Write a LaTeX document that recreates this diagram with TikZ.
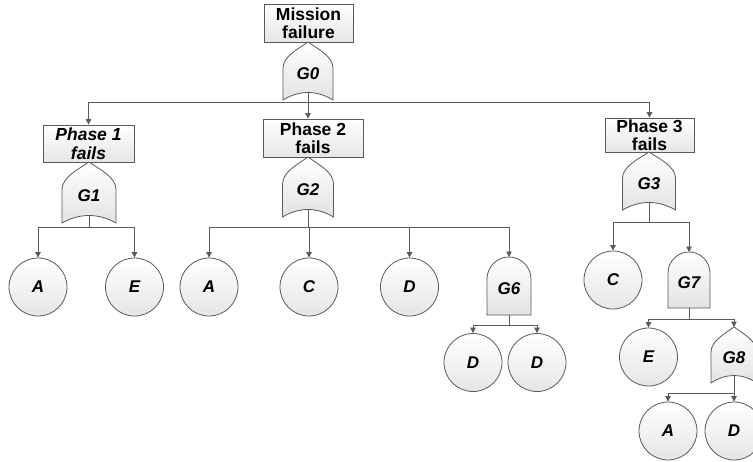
\documentclass[tikz,border=0pt]{standalone}
\usepackage{fontspec}
\setmainfont{Liberation Sans}
\usetikzlibrary{arrows.meta,calc}
\definecolor{edge}{HTML}{5A5A5A}
\tikzset{
  wire/.style={draw=edge, line width=0.9pt},
  arr/.style={wire, -{Triangle[width=5.5pt,length=5.5pt]}},
  gatefill/.style={draw=edge, line width=0.8pt, top color=white, bottom color=gray!22},
  boxnode/.style={draw=edge, line width=0.8pt, top color=white, bottom color=gray!20,
    inner sep=0pt, align=center, font=\fontsize{17.5}{18.5}\selectfont\bfseries},
  event/.style={circle, draw=edge, line width=0.8pt, top color=white, bottom color=gray!20,
    minimum size=58pt, inner sep=0pt, font=\fontsize{17}{18}\selectfont\bfseries\itshape},
  glabel/.style={inner sep=0pt, font=\fontsize{17}{18}\selectfont\bfseries\itshape}
}
% OR gate: name, centre x, tip y, half width, corner y, label
\newcommand\orgate[6]{%
  \pgfmathsetmacro\gh{#5-#3}%
  \path[gatefill] (#2,#3)
    .. controls ({#2-0.4*#4},{#3+0.12*\gh}) and ({#2-#4},{#3+0.25*\gh}) .. ({#2-#4},{#3+0.45*\gh})
    -- ({#2-#4},#5)
    .. controls ({#2-0.35*#4},{#5-10}) and ({#2+0.35*#4},{#5-10}) .. ({#2+#4},#5)
    -- ({#2+#4},{#3+0.45*\gh})
    .. controls ({#2+#4},{#3+0.25*\gh}) and ({#2+0.4*#4},{#3+0.12*\gh}) .. (#2,#3) -- cycle;
  \coordinate (#1-in) at (#2,#3);
  \coordinate (#1-out) at (#2,{#5-7.5});
  \node[glabel] (#1) at (#2,{#3+0.55*\gh}) {#6};
}
% AND gate: name, centre x, top y, half width, bottom y, label
\newcommand\andgate[6]{%
  \path[gatefill] ({#2-#4},#5) -- ({#2-#4},{#3+#4})
    .. controls ({#2-#4},{#3+0.45*#4}) and ({#2-0.55*#4},#3) .. (#2,#3)
    .. controls ({#2+0.55*#4},#3) and ({#2+#4},{#3+0.45*#4}) .. ({#2+#4},{#3+#4})
    -- ({#2+#4},#5) -- cycle;
  \coordinate (#1-in) at (#2,#3);
  \coordinate (#1-out) at (#2,#5);
  \node[glabel] (#1) at (#2,{0.5*#3+0.5*#5+3}) {#6};
}
\begin{document}
\begin{tikzpicture}[x=1pt,y=-1pt]
\useasboundingbox (0,0) rectangle (753,461);
\clip (0,0) rectangle (753,461);

% top event and phase events
\node[boxnode, minimum width=89pt, minimum height=38pt] (top) at (308.5,23) {Mission\\failure};
\node[boxnode, minimum width=91pt, minimum height=37pt, font=\fontsize{17.5}{18.5}\selectfont\bfseries\itshape] (p1) at (88.5,143.5) {Phase 1\\fails};
\node[boxnode, minimum width=100pt, minimum height=38pt] (p2) at (313,138) {Phase 2\\fails};
\node[boxnode, minimum width=89pt, minimum height=34pt] (p3) at (649.5,135) {Phase 3\\fails};

% gates
\orgate{g0}{308}{42}{25}{100}{G0}
\orgate{g1}{89}{162}{27}{223}{G1}
\orgate{g2}{308}{157}{25.5}{217}{G2}
\orgate{g3}{649}{152}{26.5}{210}{G3}
\andgate{g6}{509}{257}{22}{315}{G6}
\andgate{g7}{689}{252}{21}{308}{G7}
\orgate{g8}{734}{327}{23}{383}{G8}

% basic events
\node[event] (a1) at (38,287) {A};
\node[event] (e1) at (134.5,287) {E};
\node[event] (a2) at (209,287) {A};
\node[event] (c2) at (309,287) {C};
\node[event] (d2) at (409.5,287) {D};
\node[event] (d6a) at (473,362.5) {D};
\node[event] (d6b) at (537,362.5) {D};
\node[event] (c3) at (613,280) {C};
\node[event] (e7) at (648.5,357) {E};
\node[event] (a8) at (668,431) {A};
\node[event] (d8) at (734,431) {D};

% branch points
\coordinate (b0) at (308,102);
\coordinate (b1) at (89,227);
\coordinate (b2) at (308,227);
\coordinate (b3) at (649,222);
\coordinate (b6) at (509,325);
\coordinate (b7) at (689,319);
\coordinate (b8) at (734,393);

% connectors
\draw[wire] (g0-out) -- (b0);
\draw[arr] (b0) -| (p1.north);
\draw[arr] (b0) -- (b0 |- p2.north);
\draw[arr] (b0) -| (p3.north);

\draw[wire] (g1-out) -- (b1);
\draw[arr] (b1) -| (a1.north);
\draw[arr] (b1) -| (e1.north);

\draw[wire] (g2-out) -- (b2);
\draw[arr] (b2) -| (a2.north);
\draw[arr] (b2) -| (c2.north);
\draw[arr] (b2) -| (d2.north);
\draw[arr] (b2) -| (g6-in);

\draw[wire] (g6-out) -- (b6);
\draw[arr] (b6) -| (d6a.north);
\draw[arr] (b6) -| (d6b.north);

\draw[wire] (g3-out) -- (b3);
\draw[arr] (b3) -| (c3.north);
\draw[arr] (b3) -| (g7-in);

\draw[wire] (g7-out) -- (b7);
\draw[arr] (b7) -| (e7.north);
\draw[arr] (b7) -| (g8-in);

\draw[wire] (g8-out) -- (b8);
\draw[arr] (b8) -| (a8.north);
\draw[arr] (b8) -| (d8.north);
\end{tikzpicture}
\end{document}
